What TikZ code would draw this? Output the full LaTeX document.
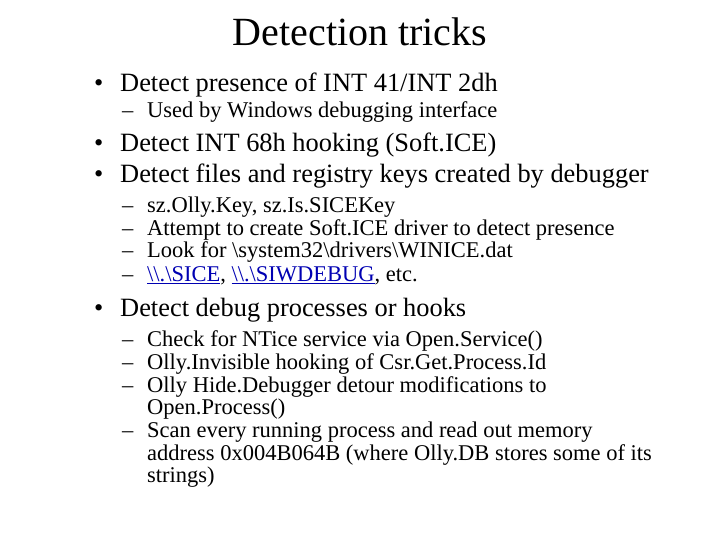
\documentclass[tikz,border=0pt]{standalone}
\usepackage{fontspec}
\setmainfont{Liberation Serif}
\begin{document}
\begin{tikzpicture}[x=1pt,y=1pt,
  big/.style={anchor=base west,inner sep=0pt,font=\fontsize{26.4}{30}\selectfont},
  small/.style={anchor=base west,inner sep=0pt,font=\fontsize{22.5}{24}\selectfont},
  ttl/.style={anchor=base,inner sep=0pt,font=\fontsize{40}{44}\selectfont}]
\useasboundingbox (0,0) rectangle (720,-540);
\node[ttl] (t) at (360,-46) {Detection tricks};
\def\B#1#2#3{\node[big] (b#1) at (94,-#2) {•}; \node[big] (bt#1) at (120,-#2) {#3};}
\def\S#1#2#3{\node[small] (s#1) at (122,-#2) {–}; \node[small] (st#1) at (147,-#2) {#3};}
\def\C#1#2#3{\node[small] (c#1) at (147,-#2) {#3};}
\B{1}{92}{Detect presence of INT 41/INT 2dh}
\S{1}{118}{Used by Windows debugging interface}
\B{2}{152}{Detect INT 68h hooking (Soft.ICE)}
\B{3}{183}{Detect files and registry keys created by debugger}
\S{2}{213}{sz.Olly.Key, sz.Is.SICEKey}
\S{3}{236}{Attempt to create Soft.ICE driver to detect presence}
\S{4}{258}{Look for \textbackslash system32\textbackslash drivers\textbackslash WINICE.dat}
\S{5}{281}{\color{blue!70!black}\underline{\textbackslash\textbackslash.\textbackslash SICE}\color{black}, \color{blue!70!black}\underline{\textbackslash\textbackslash.\textbackslash SIWDEBUG}\color{black}, etc.}
\B{4}{316}{Detect debug processes or hooks}
\S{6}{346}{Check for NTice service via Open.Service()}
\S{7}{369}{Olly.Invisible hooking of Csr.Get.Process.Id}
\S{8}{392}{Olly Hide.Debugger detour modifications to}
\C{1}{414}{Open.Process()}
\S{9}{437}{Scan every running process and read out memory}
\C{2}{460}{address 0x004B064B (where Olly.DB stores some of its}
\C{3}{482}{strings)}
\end{tikzpicture}
\end{document}
